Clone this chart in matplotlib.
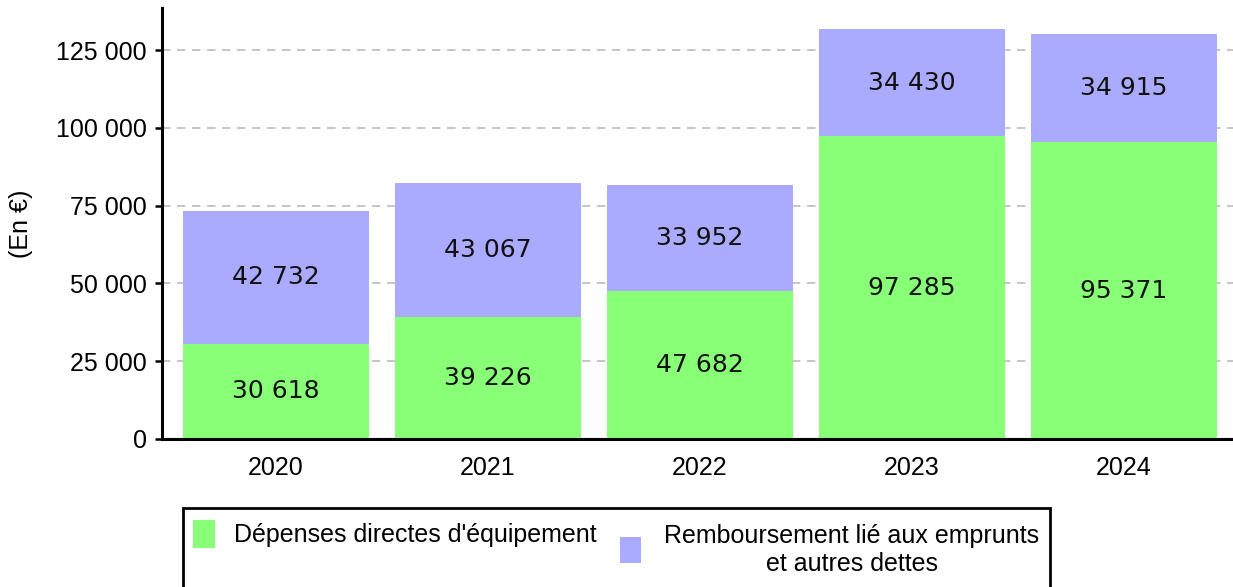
import matplotlib.pyplot as plt
from matplotlib.patches import Rectangle

# données
annees = ['2020', '2021', '2022', '2023', '2024']
depenses = [30618, 39226, 47682, 97285, 95371]
remboursement = [42732, 43067, 33952, 34430, 34915]
yticks = [0, 25000, 50000, 75000, 100000, 125000]
noms = ["Dépenses directes d'équipement",
        "Remboursement lié aux emprunts\net autres dettes"]

vert = '#88ff77'
violet = '#aaaaff'

W, H = 1233, 587

def fmt(v):
    return f"{v:,}".replace(",", " ")

def fx(px):
    return px / W

def fy(py):
    return 1 - py / H

plt.rcParams['font.family'] = ['Liberation Sans', 'DejaVu Sans']

fig = plt.figure(figsize=(W / 100, H / 100), dpi=100)
ax = fig.add_axes([fx(162), fy(439), 1 - fx(162), fy(8) - fy(439)])

x = list(range(len(annees)))
ax.bar(x, depenses, width=0.877, color=vert, zorder=2)
ax.bar(x, remboursement, width=0.877, bottom=depenses, color=violet, zorder=2)

# étiquettes au centre des segments
for i in x:
    ax.text(i, depenses[i] / 2, fmt(depenses[i]), ha='center', va='center',
            fontsize=18, family='DejaVu Sans', color='#111111', zorder=3)
    ax.text(i, depenses[i] + remboursement[i] / 2, fmt(remboursement[i]),
            ha='center', va='center', fontsize=18, family='DejaVu Sans',
            color='#111111', zorder=3)

ax.set_xlim(-0.538, 4.514)
ax.set_ylim(0, 138500)
ax.set_yticks(yticks)
ax.set_yticklabels([fmt(v) for v in yticks])
ax.set_xticks(x)
ax.set_xticklabels(annees)

ax.yaxis.grid(True, linestyle=(0, (5, 4)), color='#bbbbbb', linewidth=1.2, zorder=0)
ax.set_axisbelow(True)

for s in ['top', 'right']:
    ax.spines[s].set_visible(False)
ax.spines['left'].set_linewidth(2.2)
ax.spines['bottom'].set_linewidth(2.2)

ax.tick_params(axis='y', length=5, width=1.8, pad=6, labelsize=18)
ax.tick_params(axis='x', length=0, pad=12, labelsize=18)
ax.set_ylabel('(En €)', fontsize=18)
ax.yaxis.set_label_coords((33 - 162) / (W - 162), (439 - 224) / (439 - 8))

# légende dessinée à la main (cadre coupé en bas)
fig.add_artist(Rectangle((fx(183), fy(600)), fx(1050) - fx(183), fy(508) - fy(600),
                         transform=fig.transFigure, facecolor='white',
                         edgecolor='black', linewidth=2))
fig.add_artist(Rectangle((fx(193), fy(548)), fx(215) - fx(193), fy(520) - fy(548),
                         transform=fig.transFigure, facecolor=vert, edgecolor='none'))
fig.add_artist(Rectangle((fx(620), fy(563)), fx(641) - fx(620), fy(537) - fy(563),
                         transform=fig.transFigure, facecolor=violet, edgecolor='none'))
fig.text(fx(234), fy(535), noms[0], ha='left', va='center', fontsize=18)
fig.text(fx(852), fy(550), noms[1], ha='center', va='center', fontsize=18,
         multialignment='center', linespacing=1.25)

fig.savefig('out.png', dpi=100)
